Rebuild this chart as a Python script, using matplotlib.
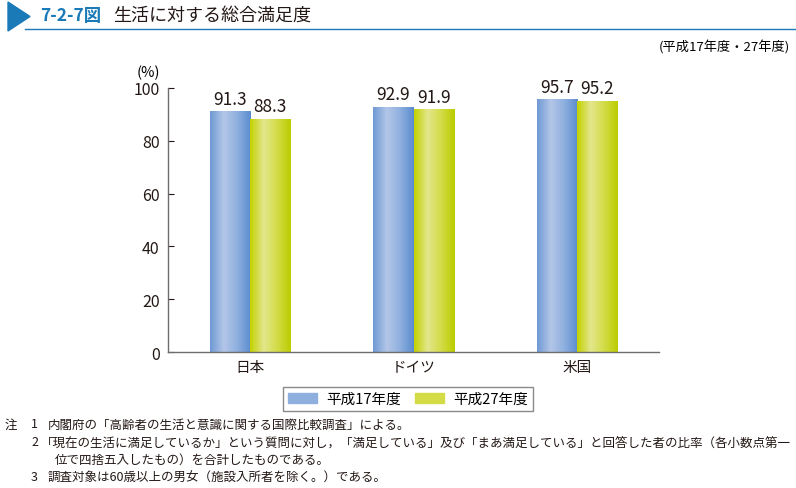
import numpy as np
import matplotlib.pyplot as plt
from matplotlib.patches import Polygon, Rectangle

plt.rcParams['font.family'] = ['Noto Sans CJK JP', 'DejaVu Sans']

# データ
categories = ['日本', 'ドイツ', '米国']
h17 = [91.3, 92.9, 95.7]
h27 = [88.3, 91.9, 95.2]
series_names = ['平成17年度', '平成27年度']

blue_grad = ['#6f9ad4', '#b3c6e8', '#8fb0df', '#5b8ccf']
green_grad = ['#c3d200', '#e3e68c', '#d3dc47', '#bccc00']

fig = plt.figure(figsize=(7.96, 4.89), dpi=100)
ax = fig.add_axes([0.211, 0.278, 0.617, 0.540])

x = np.arange(len(categories))
w = 0.245
b1 = ax.bar(x - w / 2, h17, w, color='#8fb0df')
b2 = ax.bar(x + w / 2, h27, w, color='#d3dc47')


def grad_fill(bars, cols):
    # 棒に横方向のグラデーションを貼る
    from matplotlib.colors import LinearSegmentedColormap
    cmap = LinearSegmentedColormap.from_list('g', cols)
    g = np.linspace(0, 1, 64).reshape(1, -1)
    for b in bars:
        x0, y0 = b.get_x(), b.get_y()
        im = ax.imshow(g, cmap=cmap, aspect='auto', zorder=2,
                       extent=[x0, x0 + b.get_width(), y0, y0 + b.get_height()])
        im.set_clip_path(b)


grad_fill(b1, blue_grad)
grad_fill(b2, green_grad)

for bars, vals in [(b1, h17), (b2, h27)]:
    for b, v in zip(bars, vals):
        ax.text(b.get_x() + b.get_width() / 2, v + 1.3, f'{v:.1f}',
                ha='center', va='bottom', fontsize=12.5, color='#231815')

ax.set_xlim(-0.5, 2.5)
ax.set_ylim(0, 100)
ax.set_yticks(np.arange(0, 101, 20))
ax.set_xticks(x)
ax.set_xticklabels(categories, fontsize=10.5)
ax.tick_params(axis='y', direction='in', length=4, labelsize=11.5, colors='#231815', pad=6)
ax.tick_params(axis='x', length=0, pad=6, colors='#231815')
for s in ['top', 'right']:
    ax.spines[s].set_visible(False)
for s in ['left', 'bottom']:
    ax.spines[s].set_color('#6d6d6d')
    ax.spines[s].set_linewidth(1.0)
ax.text(-0.015, 1.035, '(%)', transform=ax.transAxes, ha='right', va='bottom', fontsize=10.5)

# 凡例
handles = [Rectangle((0, 0), 1, 1, color='#8fb0df'), Rectangle((0, 0), 1, 1, color='#d3dc47')]
leg = fig.legend(handles, series_names, loc='center', bbox_to_anchor=(408 / 796, 1 - 400 / 489),
                 ncol=2, fontsize=10.5, frameon=True, fancybox=False, edgecolor='#6d6d6d',
                 handlelength=2.0, handleheight=0.7, handletextpad=0.6, columnspacing=1.0,
                 borderpad=0.35)
leg.get_frame().set_linewidth(1.0)

# タイトル
fig.patches.append(Polygon([[8 / 796, 1 - 3 / 489], [8 / 796, 1 - 32 / 489], [30 / 796, 1 - 17.5 / 489]],
                           closed=True, transform=fig.transFigure, color='#1a7ab8'))
fig.add_artist(plt.Line2D([25 / 796, 1], [1 - 30 / 489, 1 - 30 / 489], color='#1a7ab8', lw=1.0))
fig.text(40 / 796, 1 - 16 / 489, '7-2-7図', color='#1a7ab8', fontsize=12.5, weight='bold', va='center')
fig.text(113 / 796, 1 - 16 / 489, '生活に対する総合満足度', color='#231815', fontsize=13, va='center')
fig.text(790 / 796, 1 - 48 / 489, '(平成17年度・27年度)', ha='right', va='center', fontsize=9.5)

# 注
notes = [
    (5, 425, '注'), (31, 425, '1'), (48, 425, '内閣府の「高齢者の生活と意識に関する国際比較調査」による。'),
    (31, 443, '2'), (41, 443, '「現在の生活に満足しているか」という質問に対し，「満足している」及び「まあ満足している」と回答した者の比率（各小数点第一'),
    (55, 460, '位で四捨五入したもの）を合計したものである。'),
    (31, 478, '3'), (48, 478, '調査対象は60歳以上の男女（施設入所者を除く。）である。'),
]
for nx, ny, t in notes:
    fig.text(nx / 796, 1 - ny / 489, t, va='center', fontsize=9.0, color='#231815')

fig.savefig('out.png', dpi=100)
